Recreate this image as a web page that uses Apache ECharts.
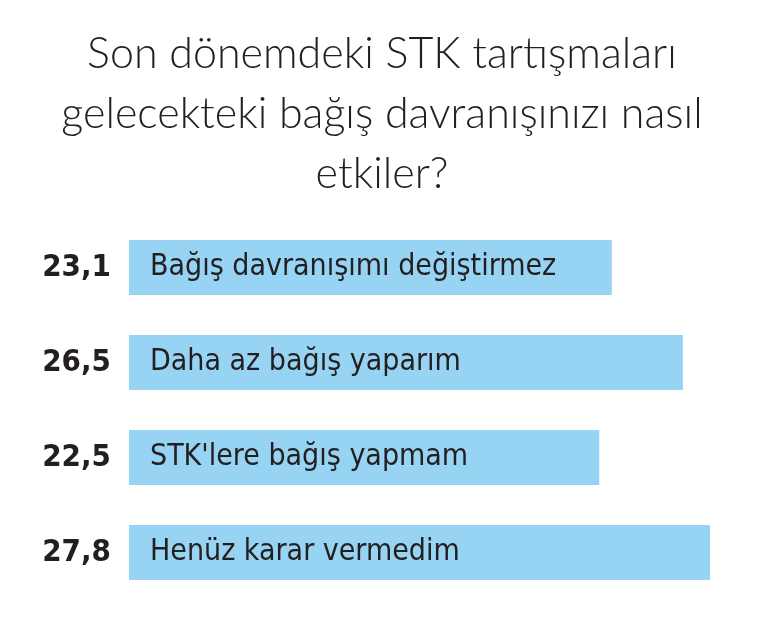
<!DOCTYPE html>
<html>
<head>
<meta charset="utf-8">
<script src="https://cdn.jsdelivr.net/npm/echarts@6/dist/echarts.min.js"></script>
<style>
html,body{margin:0;padding:0;background:#fff;}
#chart{width:778px;height:628px;}
</style>
</head>
<body>
<div id="chart"></div>
<script>
const titleText = 'Son dönemdeki STK tartışmaları\ngelecekteki bağış davranışınızı nasıl\netkiler?';
const categories = ['Bağış davranışımı değiştirmez', 'Daha az bağış yaparım', "STK'lere bağış yapmam", 'Henüz karar vermedim'];
const values = [23.1, 26.5, 22.5, 27.8];
const valueLabels = ['23,1', '26,5', '22,5', '27,8'];

const chart = echarts.init(document.getElementById('chart'));
chart.setOption({
  backgroundColor: '#ffffff',
  animation: false,
  title: {
    text: titleText,
    left: 377,
    top: 19,
    textAlign: 'center',
    textStyle: {
      fontFamily: 'Lato',
      fontWeight: 300,
      fontSize: 43,
      lineHeight: 60,
      color: '#231f20'
    }
  },
  grid: { left: 129, right: 22, top: 220, bottom: 28, containLabel: false },
  xAxis: {
    type: 'value', min: 0, max: 30,
    show: false
  },
  yAxis: {
    type: 'category',
    data: categories,
    inverse: true,
    axisLine: { show: false },
    axisTick: { show: false },
    splitLine: { show: false },
    axisLabel: {
      margin: 18,
      formatter: function (v, i) { return valueLabels[i]; },
      fontFamily: '"DejaVu Sans Condensed", "DejaVu Sans", sans-serif',
      fontWeight: 'bold',
      fontSize: 31,
      color: '#231f20'
    }
  },
  series: [{
    type: 'bar',
    data: values,
    barWidth: 55,
    itemStyle: { color: '#97d3f3' },
    label: {
      show: true,
      position: 'insideLeft',
      distance: 21,
      formatter: function (p) { return categories[p.dataIndex]; },
      fontFamily: '"DejaVu Sans Condensed", "DejaVu Sans", sans-serif',
      fontSize: 30,
      color: '#231f20'
    }
  }]
});
</script>
</body>
</html>
